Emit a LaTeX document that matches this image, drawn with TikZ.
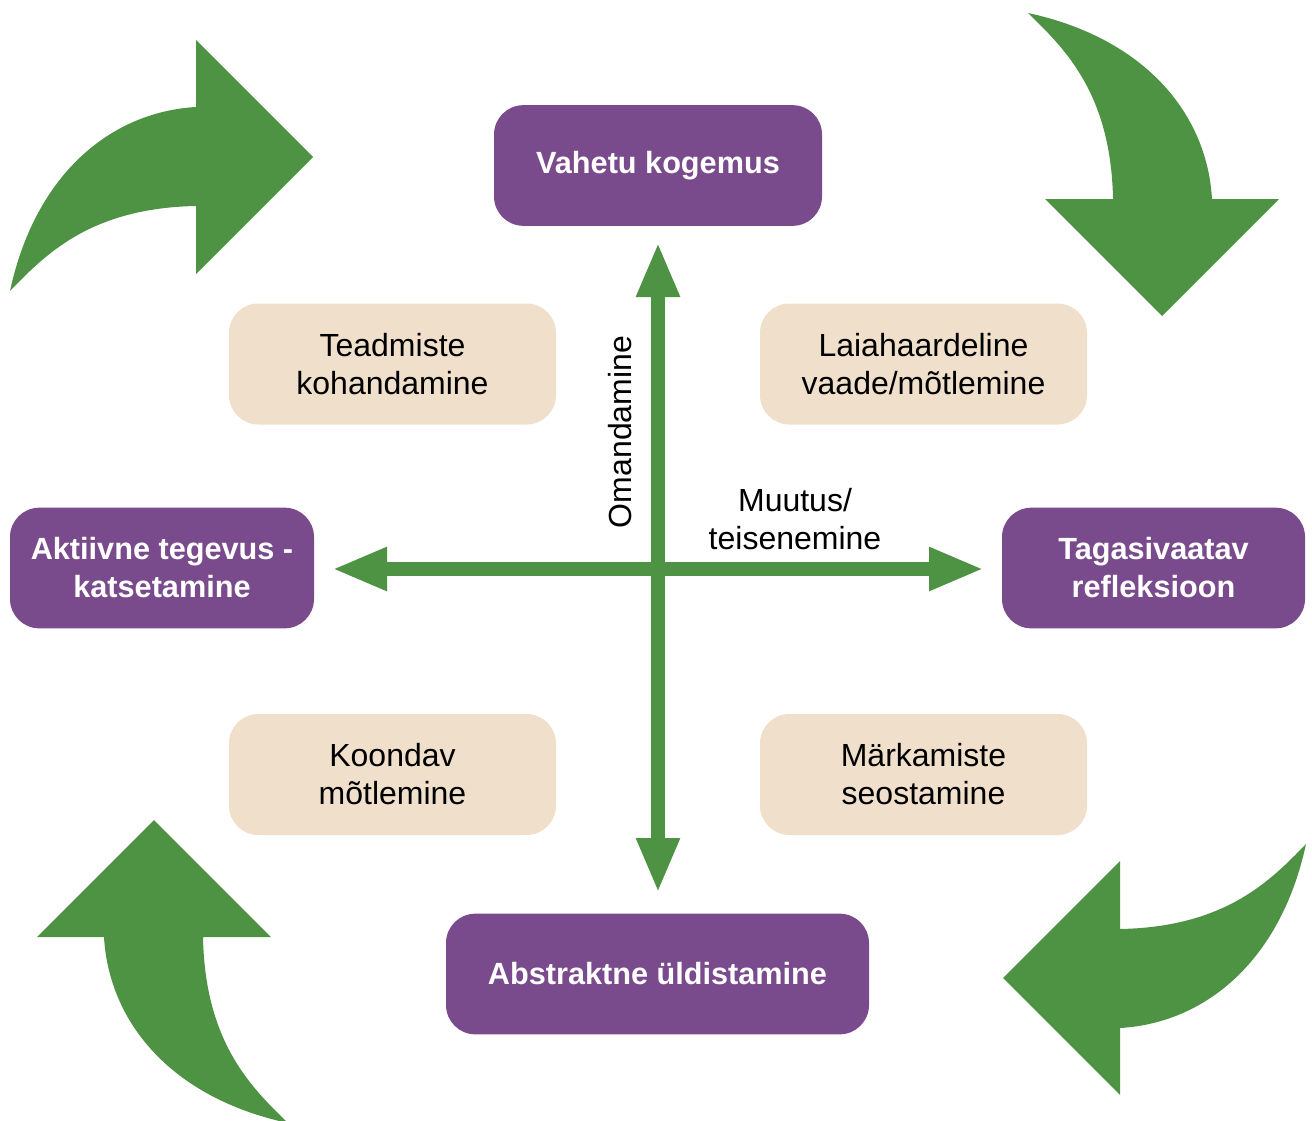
\documentclass[tikz,border=0pt]{standalone}
\usepackage{fontspec}
\setmainfont{Liberation Sans}
\usetikzlibrary{arrows.meta}
\definecolor{kgreen}{RGB}{78,147,67}
\definecolor{kpurple}{RGB}{122,75,140}
\definecolor{kbeige}{RGB}{240,224,203}
\begin{document}
\begin{tikzpicture}[x=0.75pt,y=-0.75pt,
  mainbox/.style={fill=kpurple,rounded corners=22pt,text=white,font=\fontsize{23}{28.5}\selectfont\bfseries,align=center,inner sep=0pt,minimum height=90.5pt},
  subbox/.style={fill=kbeige,rounded corners=22pt,text=black,font=\fontsize{24}{28.5}\selectfont,align=center,inner sep=0pt,minimum width=245.25pt,minimum height=90.75pt},
  axislbl/.style={font=\fontsize{24}{28.5}\selectfont,align=center,inner sep=0pt},
  axis/.style={draw=kgreen,line width=10.5pt,{Triangle[length=41.25pt,width=30pt]}-{Triangle[length=41.25pt,width=30pt]}},
  bigarrow/.pic={\fill[kgreen] (0,0) -- (-117,-117) -- (-117,-50)
      .. controls (-203,-45) and (-278,18) .. (-303,134)
      .. controls (-268,98) and (-223,51) .. (-117,49)
      -- (-117,117) -- cycle;}
]
\useasboundingbox (0,0) rectangle (1312,1120);
% curved arrows
\pic at (313,157) {bigarrow};
\pic[rotate=-90] at (1162,316) {bigarrow};
\pic[rotate=180] at (1003,978) {bigarrow};
\pic[rotate=90] at (154,820) {bigarrow};
% main boxes
\node[mainbox,minimum width=246pt] (vk) at (658,165.5) {Vahetu kogemus};
\node[mainbox,minimum width=228pt] (ak) at (162,568) {Aktiivne tegevus -\\katsetamine};
\node[mainbox,minimum width=227.25pt] (tr) at (1153.5,568) {Tagasivaatav\\refleksioon};
\node[mainbox,minimum width=317.25pt] (au) at (657.5,974) {Abstraktne üldistamine};
% sub boxes
\node[subbox] (tk) at (392.5,364) {Teadmiste\\kohandamine};
\node[subbox] (lv) at (923.5,364) {Laiahaardeline\\vaade/mõtlemine};
\node[subbox] (km) at (392.5,774.5) {Koondav\\mõtlemine};
\node[subbox] (ms) at (923.5,774.5) {Märkamiste\\seostamine};
% axes
\coordinate (vt) at (658,242);
\coordinate (vb) at (658,893);
\coordinate (hl) at (332,569);
\coordinate (hr) at (984,569);
\draw[axis] (vb) -- (vt);
\draw[axis] (hl) -- (hr);
\node[axislbl,rotate=90] (om) at (620,432) {Omandamine};
\node[axislbl] (mt) at (795,519) {Muutus/\\teisenemine};
\end{tikzpicture}
\end{document}
